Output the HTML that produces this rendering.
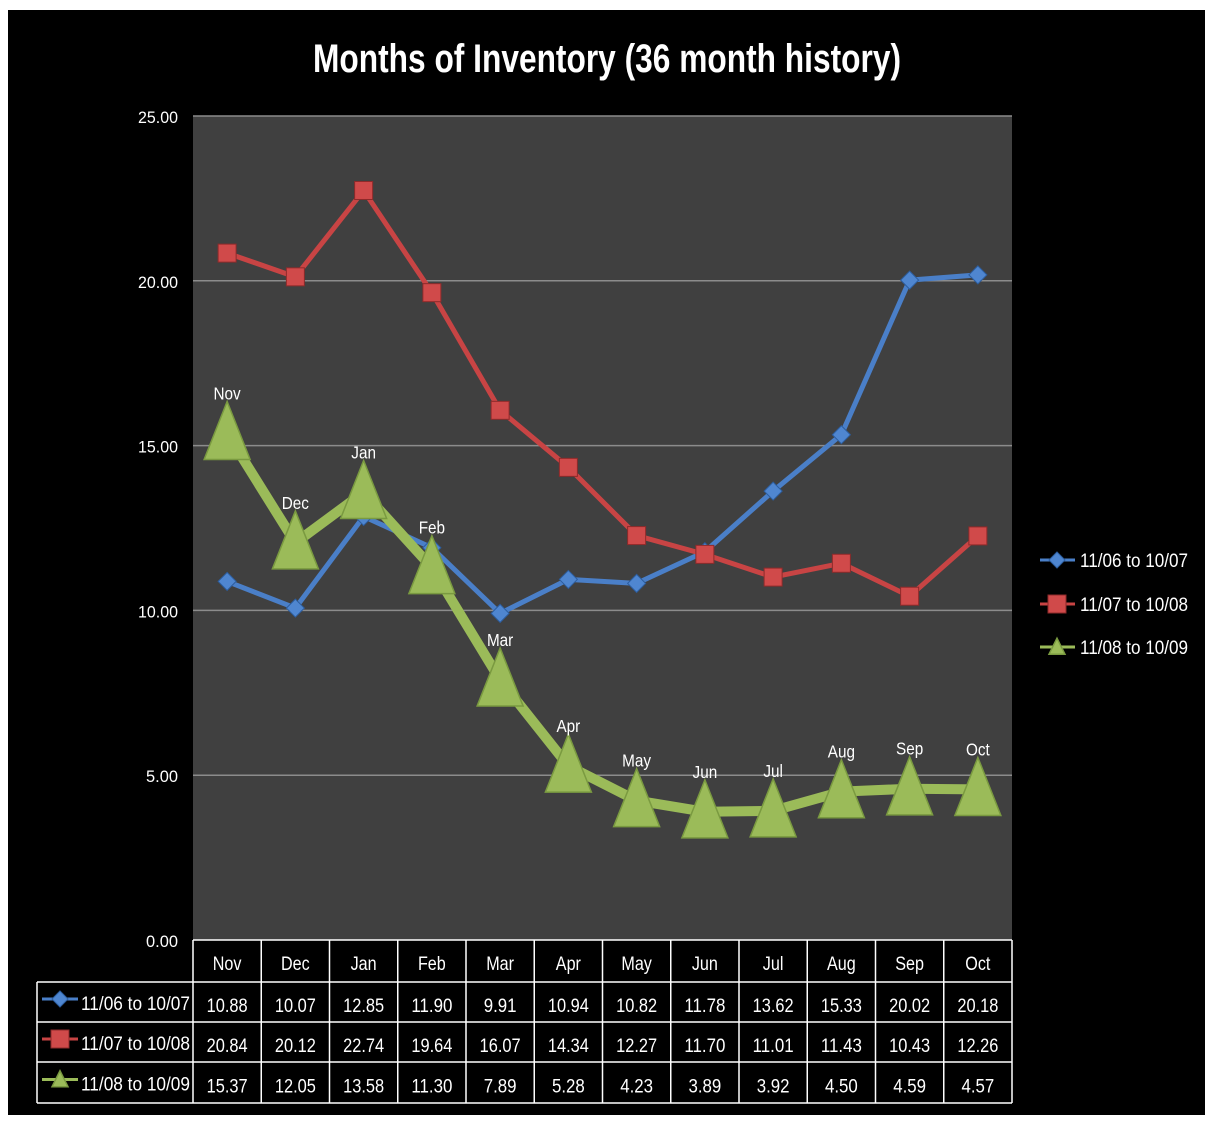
<!DOCTYPE html>
<html><head><meta charset="utf-8"><style>
html,body{margin:0;padding:0;background:#fff;}
svg{display:block;font-family:"Liberation Sans",sans-serif;}
</style></head><body>
<svg id="c" width="1214" height="1127" xmlns="http://www.w3.org/2000/svg">
<rect x="8" y="10" width="1197" height="1105" fill="#000"/>
<text x="607" y="72" fill="#fff" font-size="40" font-weight="bold" text-anchor="middle" textLength="588" lengthAdjust="spacingAndGlyphs">Months of Inventory (36 month history)</text>
<rect x="193" y="116" width="819" height="824" fill="#404040"/>
<g id="grid"></g><g id="series"></g><g id="table"></g><g id="legend"></g>
</svg>
<script>
const categories=["Nov","Dec","Jan","Feb","Mar","Apr","May","Jun","Jul","Aug","Sep","Oct"];
const seriesNames=["11/06 to 10/07","11/07 to 10/08","11/08 to 10/09"];
const s1=[10.88,10.07,12.85,11.90,9.91,10.94,10.82,11.78,13.62,15.33,20.02,20.18];
const s2=[20.84,20.12,22.74,19.64,16.07,14.34,12.27,11.70,11.01,11.43,10.43,12.26];
const s3=[15.37,12.05,13.58,11.30,7.89,5.28,4.23,3.89,3.92,4.50,4.59,4.57];
const yTicks=[0,5,10,15,20,25];
const NS="http://www.w3.org/2000/svg";
const X0=193,X1=1012,Y0=940,Y1=116,YMAX=25;
const cw=(X1-X0)/categories.length;
const xs=i=>X0+cw*(i+0.5);
const ys=v=>Y0-(v/YMAX)*(Y0-Y1);
function mk(t,a,p){const e=document.createElementNS(NS,t);for(const k in a)e.setAttribute(k,a[k]);p.appendChild(e);return e;}
const grid=document.getElementById('grid');
yTicks.forEach(t=>{
 if(t>0){const l=mk('line',{x1:X0,x2:X1,y1:ys(t),y2:ys(t),stroke:'#8c8c8c','stroke-width':1.5},grid);
 
 }
 const s=t.toFixed(2);
 const tx=mk('text',{x:178,y:ys(t)+7,fill:'#fff','font-size':17,'text-anchor':'end',textLength:s.length*8,lengthAdjust:'spacingAndGlyphs'},grid);
 tx.textContent=s;
 
 
});
const colors=["#4a7fc8","#c84444","#9bbb59"];
const data=[s1,s2,s3];
const sg=document.getElementById('series');
function marker(k,x,y,p,big){
 let e;
 if(k===0){const r=big?9:8;e=mk('polygon',{points:`${x},${y-r} ${x+r},${y} ${x},${y+r} ${x-r},${y}`,fill:'#4f86d0',stroke:'#2c5d9e','stroke-width':1},p);}
 else if(k===1){const r=9;e=mk('rect',{x:x-r,y:y-r,width:2*r,height:2*r,fill:'#d04a4a',stroke:'#8e2a2a','stroke-width':1},p);}
 else{const h=big?58:16,w=big?46:16;e=mk('polygon',{points:`${x},${y-h*0.55} ${x+w/2},${y+h*0.45} ${x-w/2},${y+h*0.45}`,fill:'#9bbb59',stroke:'#7a9a40','stroke-width':1.5},p);}
 return e;
}
data.forEach((arr,k)=>{
 const pl=mk('polyline',{points:arr.map((v,i)=>xs(i)+','+ys(v)).join(' '),fill:'none',stroke:colors[k],'stroke-width':k===2?10:5,'stroke-linejoin':'round'},sg);
 
 
});
data.forEach((arr,k)=>{
 arr.forEach((v,i)=>{
  const m=marker(k,xs(i),ys(v),sg,true);
  
  
  if(k===2){
   const t=mk('text',{x:xs(i),y:ys(v)-34,fill:'#fff','font-size':18,'text-anchor':'middle','transform':`translate(${xs(i)},0) scale(0.85,1) translate(${-xs(i)},0)`},sg);
   t.textContent=categories[i];
   
   
  }
 });
});
const tb=document.getElementById('table');
const rowY=[940,982,1022,1062,1103];
const tl=mk('path',{d:'',fill:'none',stroke:'#fff','stroke-width':1.5},tb);


let d=`M${X0},940 H${X1} M37,982 H${X1} M37,1022 H${X1} M37,1062 H${X1} M37,1103 H${X1} M37,982 V1103`;
for(let i=0;i<=categories.length;i++){const x=X0+cw*i;d+=` M${x},940 V1103`;}
tl.setAttribute('d',d);
categories.forEach((c,i)=>{
 const t=mk('text',{x:xs(i),y:970,fill:'#fff','font-size':19,'text-anchor':'middle','transform':`translate(${xs(i)},0) scale(0.85,1) translate(${-xs(i)},0)`},tb);
 t.textContent=c;
 
 
});
data.forEach((arr,k)=>{
 const cy=(rowY[k+1]+rowY[k+2])/2;
 const ln=mk('line',{x1:42,x2:78,y1:cy-3,y2:cy-3,stroke:colors[k],'stroke-width':3},tb);
 
 
 const m=marker(k,60,cy-3,tb,false);
 
 
 const n=mk('text',{x:81,y:cy+8,fill:'#fff','font-size':19,textLength:109,lengthAdjust:'spacingAndGlyphs'},tb);
 n.textContent=seriesNames[k];
 
 
 arr.forEach((v,i)=>{
  const s=v.toFixed(2);
  const t=mk('text',{x:xs(i),y:cy+10,fill:'#fff','font-size':19,'text-anchor':'middle',textLength:s.length*8.2,lengthAdjust:'spacingAndGlyphs'},tb);
  t.textContent=s;
  
  
 });
});
const lg=document.getElementById('legend');
[560,604,647].forEach((y,k)=>{
 const ln=mk('line',{x1:1040,x2:1075,y1:y,y2:y,stroke:colors[k],'stroke-width':3},lg);
 
 
 const m=marker(k,1057,y,lg,false);
 
 
 const t=mk('text',{x:1080,y:y+7,fill:'#fff','font-size':19,textLength:108,lengthAdjust:'spacingAndGlyphs'},lg);
 t.textContent=seriesNames[k];
 
 
});
</script>
</body></html>
